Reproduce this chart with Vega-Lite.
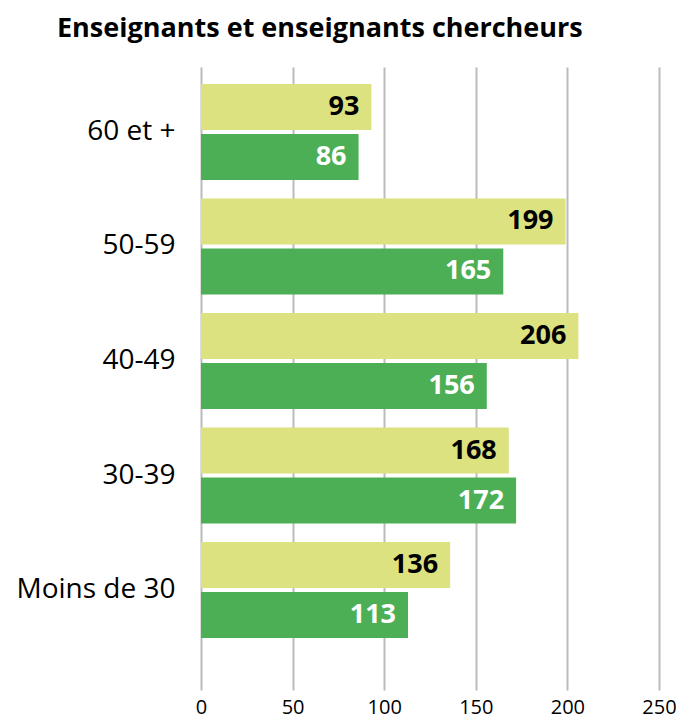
{
  "$schema": "https://vega.github.io/schema/vega-lite/v6.json",
  "width": 458,
  "height": 623,
  "autosize": {"type": "none"},
  "padding": {"left": 201, "top": 67, "right": 35, "bottom": 29},
  "title": {"text": "Enseignants et enseignants chercheurs", "anchor": "start", "frame": "group", "dx": -144, "fontSize": 27, "font": "Open Sans", "fontWeight": "bold", "color": "#000", "offset": 24},
  "config": {"view": {"stroke": null}, "font": "Open Sans"},
  "data": {"values": [
    {"age": "60 et +", "serie": "Série 1", "valeur": 93},
    {"age": "60 et +", "serie": "Série 2", "valeur": 86},
    {"age": "50-59", "serie": "Série 1", "valeur": 199},
    {"age": "50-59", "serie": "Série 2", "valeur": 165},
    {"age": "40-49", "serie": "Série 1", "valeur": 206},
    {"age": "40-49", "serie": "Série 2", "valeur": 156},
    {"age": "30-39", "serie": "Série 1", "valeur": 168},
    {"age": "30-39", "serie": "Série 2", "valeur": 172},
    {"age": "Moins de 30", "serie": "Série 1", "valeur": 136},
    {"age": "Moins de 30", "serie": "Série 2", "valeur": 113}
  ]},
  "encoding": {
    "y": {"field": "age", "type": "nominal", "sort": ["60 et +", "50-59", "40-49", "30-39", "Moins de 30"],
      "scale": {"paddingInner": 0.1616, "paddingOuter": 0.301, "align": 0.246},
      "axis": {"title": null, "domain": false, "ticks": false, "grid": false, "labelFontSize": 28, "labelColor": "#000", "labelPadding": 26, "labelFont": "Open Sans"}},
    "yOffset": {"field": "serie", "type": "nominal", "sort": ["Série 1", "Série 2"], "scale": {"paddingInner": 0.08, "paddingOuter": 0}},
    "x": {"field": "valeur", "type": "quantitative", "scale": {"domain": [0, 250], "nice": false},
      "axis": {"title": null, "values": [0, 50, 100, 150, 200, 250], "domain": false, "ticks": false, "labelFlush": false, "labelFontSize": 20, "labelColor": "#000", "labelFont": "Open Sans", "gridColor": "#bbbbbb", "gridWidth": 2, "labelPadding": 7}}
  },
  "layer": [
    {"mark": {"type": "bar"},
     "encoding": {"color": {"field": "serie", "type": "nominal", "scale": {"domain": ["Série 1", "Série 2"], "range": ["#dce27f", "#4caf55"]}, "legend": null}}},
    {"mark": {"type": "text", "align": "right", "baseline": "middle", "dx": -12, "fontSize": 27, "fontWeight": "bold", "font": "Open Sans"},
     "encoding": {"text": {"field": "valeur", "type": "quantitative"},
       "color": {"condition": {"test": "datum.serie === 'Série 1'", "value": "#000000"}, "value": "#ffffff"}}}
  ]
}
